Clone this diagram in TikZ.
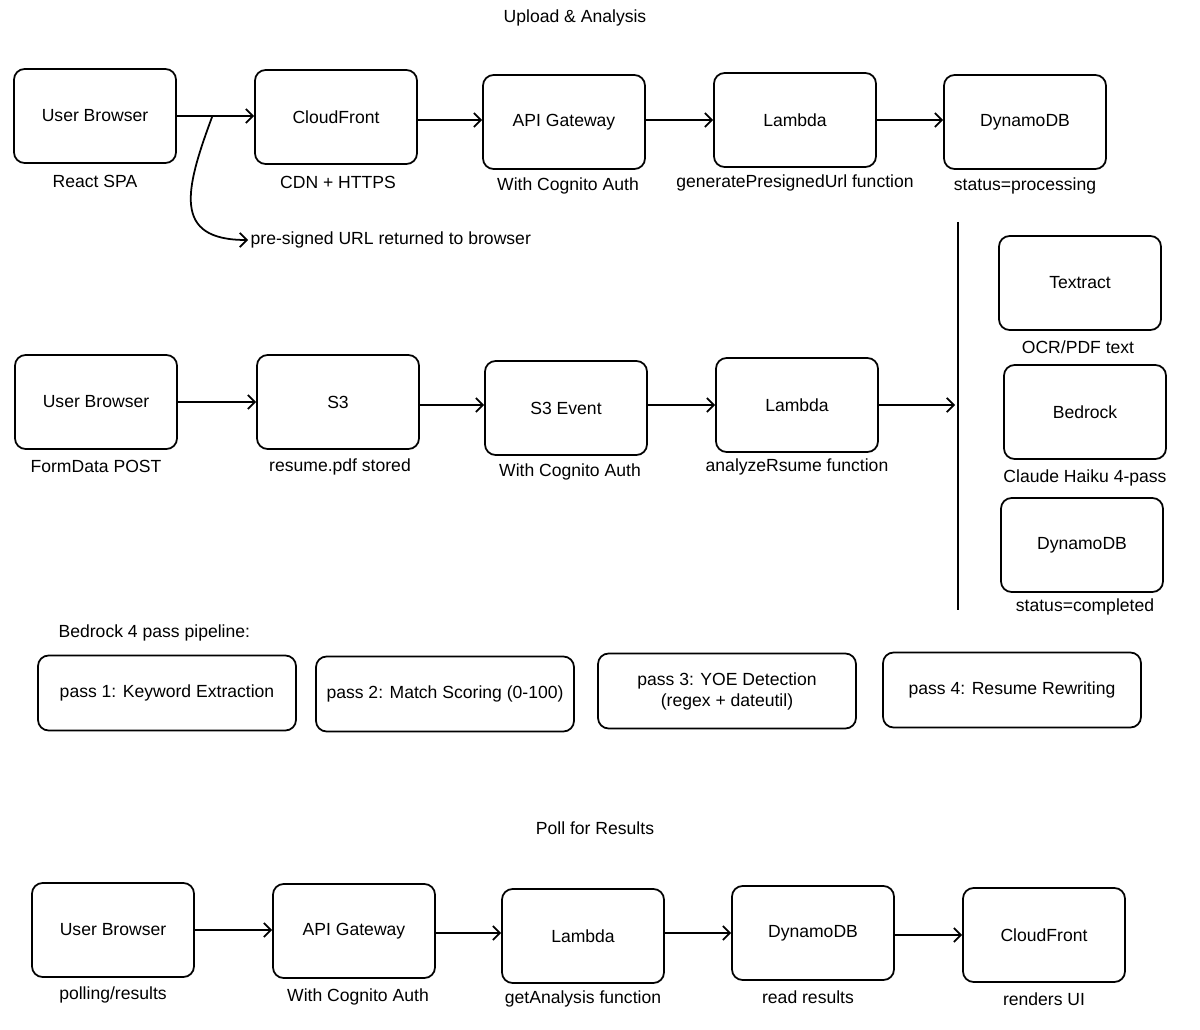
\documentclass[tikz,border=0pt]{standalone}
\usepackage{fontspec}
\setmainfont{Liberation Sans}
\usepackage{tikz}
\usetikzlibrary{arrows.meta}

\begin{document}
\begin{tikzpicture}[x=0.02cm, y=-0.02cm, line width=1pt, font=\fontsize{10}{12}\selectfont, >={Straight Barb[length=4pt,width=8pt]},
  box/.style={draw, rounded corners=6pt, minimum width=3.24cm, minimum height=1.88cm},
  passbox/.style={draw, rounded corners=6pt, minimum width=5.16cm, minimum height=1.5cm, align=center, inner xsep=1pt},
  lbl/.style={inner sep=1pt}]
\useasboundingbox (0,0) rectangle (1200,1030);
% upload row
\node[lbl] (T1) at (575,18) {Upload \& Analysis};
\node[box] (UB1) at (95,116) {User Browser};
\node[box] (CF1) at (336,117) {CloudFront};
\node[box] (AG1) at (564,122) {API Gateway};
\node[box] (LA1) at (795,120) {Lambda};
\node[box] (DD1) at (1025,122) {DynamoDB};
\node[lbl] (UB1l) at (95,181) {React SPA};
\node[lbl] (CF1l) at (338,182) {CDN + HTTPS};
\node[lbl] (AG1l) at (568,186) {With Cognito Auth};
\node[lbl] (LA1l) at (795,183) {generatePresignedUrl function};
\node[lbl] (DD1l) at (1025,186) {status=processing};
\node[lbl, anchor=west] (PU) at (248,240) {pre-signed URL returned to browser};
\draw[->] (UB1.east) -- coordinate[pos=0.46] (br) (UB1.east -| CF1.west);
\draw[->] (CF1.east |- LA1) -- (AG1.west |- LA1);
\draw[->] (AG1.east |- LA1) -- (LA1.west);
\draw[->] (LA1.east) -- (LA1.east -| DD1.west);
\draw[->] (br) .. controls (185,190) and (172,240) .. (PU.west);
% analysis row
\node[box] (UB2) at (96,402) {User Browser};
\node[box] (S3) at (338,402) {S3};
\node[box] (SE) at (566,408) {S3 Event};
\node[box] (LA2) at (797,405) {Lambda};
\node[lbl] (UB2l) at (96,466) {FormData POST};
\node[lbl] (S3l) at (340,467) {resume.pdf stored};
\node[lbl] (SEl) at (570,472) {With Cognito Auth};
\node[lbl] (LA2l) at (797,467) {analyzeRsume function};
\coordinate (vtop) at (958,222);
\coordinate (vbot) at (958,610);
\coordinate (vin) at (955,405);
\draw (vtop) -- (vbot);
\draw[->] (UB2.east) -- (UB2.east -| S3.west);
\draw[->] (S3.east |- LA2) -- (SE.west |- LA2);
\draw[->] (SE.east |- LA2) -- (LA2.west);
\draw[->] (LA2.east) -- (vin);
\node[box] (TX) at (1080,283) {Textract};
\node[box] (BR) at (1085,412) {Bedrock};
\node[box] (DD2) at (1082,545) {DynamoDB};
\node[lbl] (TXl) at (1078,347) {OCR/PDF text};
\node[lbl] (BRl) at (1085,478) {Claude Haiku 4-pass};
\node[lbl] (DD2l) at (1085,607) {status=completed};
% bedrock passes
\node[lbl, anchor=west] (PP) at (56,633) {Bedrock 4 pass pipeline:};
\node[passbox] (P1) at (167,693) {pass 1: Keyword Extraction};
\node[passbox] (P2) at (445,694) {pass 2: Match Scoring (0-100)};
\node[passbox] (P3) at (727,691) {pass 3: YOE Detection\\(regex + dateutil)};
\node[passbox] (P4) at (1012,690) {pass 4: Resume Rewriting};
% poll row
\node[lbl] (T3) at (595,828) {Poll for Results};
\node[box] (UB3) at (113,930) {User Browser};
\node[box] (AG3) at (354,931) {API Gateway};
\node[box] (LA3) at (583,936) {Lambda};
\node[box] (DD3) at (813,933) {DynamoDB};
\node[box] (CF3) at (1044,935) {CloudFront};
\node[lbl] (UB3l) at (113,995) {polling/results};
\node[lbl] (AG3l) at (358,997) {With Cognito Auth};
\node[lbl] (LA3l) at (583,999) {getAnalysis function};
\node[lbl] (DD3l) at (808,997) {read results};
\node[lbl] (CF3l) at (1044,999) {renders UI};
\draw[->] (UB3.east) -- (UB3.east -| AG3.west);
\draw[->] (AG3.east |- DD3) -- (LA3.west |- DD3);
\draw[->] (LA3.east |- DD3) -- (DD3.west);
\draw[->] (DD3.east |- CF3) -- (CF3.west);
\end{tikzpicture}
\end{document}
